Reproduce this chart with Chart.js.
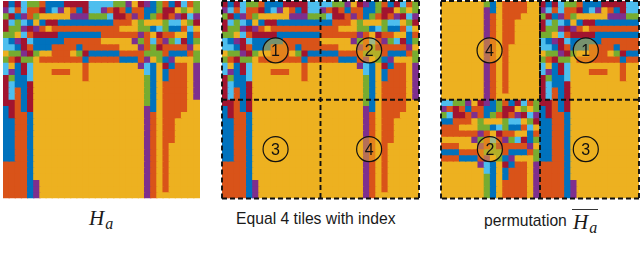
<!DOCTYPE html>
<html>
<head>
<meta charset="utf-8">
<script src="https://cdn.jsdelivr.net/npm/chart.js@4"></script>
<style>
  html, body { margin: 0; padding: 0; background: #fff; width: 640px; height: 253px; overflow: hidden; }
  canvas { position: absolute; top: 0; filter: blur(0.4px); }
  .caption { position: absolute; white-space: nowrap; color: #1a1a1a; font-family: "Liberation Sans", sans-serif; font-size: 15.7px; line-height: 18px; }
  .math { position: absolute; white-space: nowrap; color: #1a1a1a; font-family: "Liberation Serif", serif; font-style: italic; font-size: 21px; line-height: 24px; }
  .math sub { font-size: 16px; line-height: 0; vertical-align: -4px; margin-left: 1px; }
  .math .bar { border-top: 1px solid #333; padding: 0 1px; }
</style>
</head>
<body>
<canvas id="plainChart" width="202" height="202" style="left:0px"></canvas>
<canvas id="tilesChart" width="202" height="202" style="left:219px"></canvas>
<canvas id="permChart" width="203" height="202" style="left:438px"></canvas>
<div class="math" style="left:89px;top:206px"><span>H</span><sub>a</sub></div>
<div class="caption" style="left:236px;top:210px">Equal 4 tiles with index</div>
<div class="caption" style="left:484px;top:212px">permutation</div>
<div class="math" style="left:572px;top:210px"><span class="bar">H<sub>a</sub></span></div>

<script>
/* The picture: 32 x 32 cells, one letter per cell */
const cell_rows = [
  'rbrcggobbbrrrrccccggpyrpbgobrcog',
  'pcocoorbcpyobrccporoboobbgrrygyg',
  'grbpogyyyyypppgggcrropobgoroprcp',
  'rcgcbybrrbbbbbbbbboooygyyygccygr',
  'rggprpoyoooooooooooyyyggbcgbbocy',
  'ggycorrrrbbbbbbboooooopoyrooyybo',
  'cbprcbbbbboooooo' + 'yyyyypgocopgcrbg',
  'ccbrobbboooobooooooyyypogroooopy',
  'yggprgyyoooygrbbbbboooogggobbbog',
  'gorggyooooooobooooobbbopygbpyyyg',
  'cybrcyyyyyyyyoyyyyyyyypcbyrbooyp',
  'cpbrcyyyoooyyoyyyyyyyyycbyboooyp',
  'rgbbcyyyyyyyyoyyyyyyyyygbyboooyp',
  'rcbbryyyyyyyyyyyyyyyyyygbyooooyp',
  'rcobryyyyyyyyyyyyyyyyyygbyooooyp',
  'rcobryyyyyyyyyyyyyyyyyygbyooooyp',
  'rrobryyyyyyyyyyyyyyyyyygbyooooyy',
  'brobryyyyyyyyyyyyyyyyyypbyooooyy',
  'broobyyyyyyyyyyyyyyyyyypoyoooyyy',
  'bboobyyyyyyyyyyyyyyyyyypoyooyyyy',
  'bboobyyyyyyyyyyyyyyyyyypoyooyyyy',
  'bboobyyyyyyyyyyyyyyyyyypoyooyyyy',
  'bboobyyyyyyyyyyyyyyyyyypoyooyyyy',
  'bboobyyyyyyyyyyyyyyyyyypoyoyyyyy',
  'bboobyyyyyyyyyyyyyyyyyypoyoyyyyy',
  'bboobyyyyyyyyyyyyyyyyyypoyoyyyyy',
  'oooobyyyyyyyyyyyyyyyyyypoyoyyyyy',
  'oooobyyyyyyyyyyyyyyyyyypoyoyyyyy',
  'oooobyyyyyyyyyyyyyyyyyypoyoyyyyy',
  'oooobpyyyyyyyyyyyyyyyyypoyoyyyyy',
  'oooobpyyyyyyyyyyyyyyyyypoyoyyyyy',
  'oooobpyyyyyyyyyyyyyyyyypoyyyyyyy'
];

const cell_colors = {
  b: '#0072BD', o: '#D95319', y: '#EDB120', p: '#7E2F8E',
  g: '#77AC30', c: '#4DBEEE', r: '#A2142F'
};

/* Permuted picture: tile 4 and 1 on top, tile 2 and 3 below */
const perm_rows = cell_rows.map((row, i) => {
  if (i < 16) return cell_rows[i + 16].slice(16) + row.slice(0, 16);
  return cell_rows[i - 16].slice(16) + row.slice(0, 16);
});

/* circled indices, in cell units */
const tiles_circles = [
  { label: '1', col: 8.7, row: 8 }, { label: '2', col: 23.9, row: 8 },
  { label: '3', col: 8.7, row: 24 }, { label: '4', col: 23.9, row: 24 }
];
const perm_circles = [
  { label: '4', col: 7.85, row: 8 }, { label: '1', col: 23.4, row: 8 },
  { label: '2', col: 7.9, row: 24 }, { label: '3', col: 23.4, row: 24 }
];

/* dashed lines, from column/row to column/row */
const outer_lines = [[0, 0, 32, 0], [32, 0, 32, 32], [32, 32, 0, 32], [0, 32, 0, 0]];
const tiles_lines = outer_lines.concat([[16, 0, 16, 32], [0, 16, 32, 16]]);
// the top half of the middle line in the permuted picture is doubled, it reads almost solid
const perm_lines = outer_lines.concat([[16, 0, 16, 32], [16, 16, 16, 0], [0, 16, 32, 16]]);

const overlay = {
  id: 'overlay',
  afterDatasetsDraw(chart, args, opts) {
    const ctx = chart.ctx;
    const x_at = (col) => chart.scales.x.getPixelForValue(col - 0.5);
    const y_at = (row) => chart.scales.y.getPixelForValue(row);
    ctx.save();
    ctx.strokeStyle = '#111';
    ctx.lineWidth = 1.9;
    ctx.setLineDash([5, 3]);
    opts.lines.forEach(([c0, r0, c1, r1]) => {
      ctx.beginPath();
      ctx.moveTo(x_at(c0), y_at(r0));
      ctx.lineTo(x_at(c1), y_at(r1));
      ctx.stroke();
    });
    ctx.setLineDash([]);
    ctx.lineWidth = 1.2;
    ctx.font = '16px "Liberation Sans"';
    ctx.textAlign = 'center';
    ctx.textBaseline = 'middle';
    opts.circles.forEach((c) => {
      ctx.beginPath();
      ctx.arc(x_at(c.col), y_at(c.row), 12.5, 0, Math.PI * 2);
      ctx.fillStyle = 'rgba(237, 177, 32, 0.5)';
      ctx.fill();
      ctx.stroke();
      ctx.fillStyle = '#111';
      ctx.fillText(c.label, x_at(c.col), y_at(c.row) + 1);
    });
    ctx.restore();
  }
};

const drawCells = (canvas_id, rows, lines, circles) => {
  const labels = rows[0].split('').map((v, i) => i);
  // bars overlap their neighbours by a bit over a pixel, that hides the seams
  const datasets = rows.map((row, r) => ({
    data: labels.map(() => [r - 0.2, r + 1]),
    backgroundColor: row.split('').map((k) => cell_colors[k]),
    borderWidth: 0,
    categoryPercentage: 1,
    barPercentage: 1.2
  }));
  new Chart(document.getElementById(canvas_id).getContext('2d'), {
    type: 'bar',
    data: { labels: labels, datasets: datasets },
    plugins: [overlay],
    options: {
      responsive: false,
      animation: false,
      devicePixelRatio: 1,
      layout: { padding: { left: 3, right: 2, top: 1, bottom: 3.5 } },
      plugins: {
        legend: { display: false },
        tooltip: { enabled: false },
        overlay: { lines: lines, circles: circles }
      },
      scales: {
        x: { display: false, stacked: true },
        y: { display: false, reverse: true, min: 0, max: rows.length }
      }
    }
  });
};

/* main */
drawCells('plainChart', cell_rows, [], []);
drawCells('tilesChart', cell_rows, tiles_lines, tiles_circles);
drawCells('permChart', perm_rows, perm_lines, perm_circles);
</script>
</body>
</html>
